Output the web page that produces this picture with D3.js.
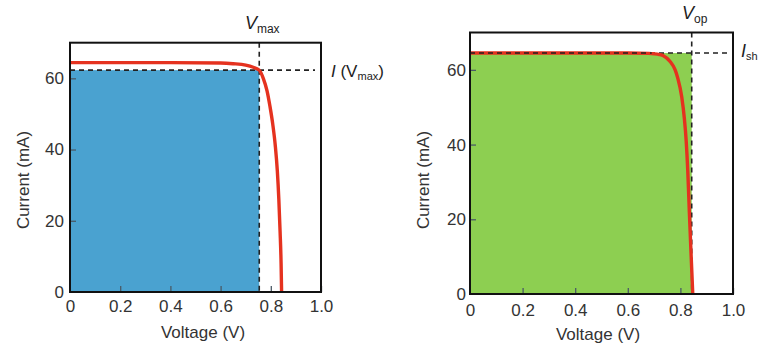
<!DOCTYPE html>
<html>
<head>
<meta charset="utf-8">
<script src="https://cdn.jsdelivr.net/npm/d3@7"></script>
<style>
  html, body { margin: 0; padding: 0; background: #ffffff; }
  svg { display: block; }
  text { font-family: "Liberation Sans", Arial, Helvetica, sans-serif; }
</style>
</head>
<body>
<svg id="chart" width="760" height="347"></svg>
<script>
// ---------- data ----------
const xTicks = [0, 0.2, 0.4, 0.6, 0.8, 1.0];
const xTickLabels = ["0", "0.2", "0.4", "0.6", "0.8", "1.0"];
const yTicks = [0, 20, 40, 60];
const yTickLabels = ["0", "20", "40", "60"];

// left panel (max power point)
const voltageLeft = [0, 0.2, 0.4, 0.6, 0.65, 0.7, 0.73, 0.754, 0.77, 0.785, 0.797, 0.808, 0.818, 0.826, 0.832, 0.837, 0.841, 0.843];
const currentLeft = [64.4, 64.4, 64.4, 64.3, 64.1, 63.7, 63.1, 62.3, 60.0, 56.5, 52.0, 47.0, 41.0, 34.0, 26.0, 17.0, 8.0, 0];
const vMax = 0.754;
const iVMax = 62.3;

// right panel (operating point)
const voltageRight = [0, 0.2, 0.4, 0.6, 0.68, 0.7, 0.72, 0.735, 0.76, 0.78, 0.79, 0.805, 0.815, 0.822, 0.828, 0.834, 0.841, 0.847];
const currentRight = [64.5, 64.5, 64.5, 64.5, 64.4, 64.3, 64.1, 63.8, 62.3, 60.0, 57.8, 52.8, 47.0, 41.0, 33.0, 22.0, 10.0, 0];
const vOp = 0.843;
const iSh = 64.5;

const panels = [
  { volts: voltageLeft, amps: currentLeft, vLine: vMax, iLine: iVMax, fill: "#4aa2d0",
    xr: [70, 321], yr: [292, 42.7], xPad: 8, yPad: 6, hDashEnd: 315,
    vLabel: ["V", "max"], xTitleX: 203, yTitleX: 23 },
  { volts: voltageRight, amps: currentRight, vLine: vOp, iLine: iSh, fill: "#8dcf51",
    xr: [470, 733], yr: [294, 32.5], xPad: 10, yPad: 4, hDashEnd: 730,
    vLabel: ["V", "op"], xTitleX: 598, yTitleX: 423 }
];

const svg = d3.select("#chart");

panels.forEach((p, idx) => {
  const x = d3.scaleLinear().domain([0, 1.0]).range(p.xr);
  const y = d3.scaleLinear().domain([0, 70]).range(p.yr);
  const g = svg.append("g");

  // filled power rectangle
  g.append("rect")
    .attr("x", x(0)).attr("y", y(p.iLine))
    .attr("width", x(p.vLine) - x(0))
    .attr("height", y(0) - y(p.iLine))
    .attr("fill", p.fill);

  // axes (ticks inside)
  const xAxis = d3.axisBottom(x).tickValues(xTicks)
    .tickFormat((d, i) => xTickLabels[i])
    .tickSizeInner(-6).tickSizeOuter(0).tickPadding(p.xPad);
  const yAxis = d3.axisLeft(y).tickValues(yTicks)
    .tickFormat((d, i) => yTickLabels[i])
    .tickSizeInner(-6).tickSizeOuter(0).tickPadding(p.yPad);

  const gx = g.append("g").attr("transform", `translate(0,${y(0)})`).call(xAxis);
  const gy = g.append("g").attr("transform", `translate(${x(0)},0)`).call(yAxis);
  [gx, gy].forEach(a => {
    a.select(".domain").remove();
    a.selectAll(".tick line").attr("stroke", "#4a5a66").attr("stroke-width", 1.3)
      .filter(d => d === 0).remove();
    a.selectAll(".tick text").attr("fill", "#333").style("font-size", "17px");
  });

  // dashed guide lines
  g.append("line")
    .attr("x1", x(0)).attr("x2", p.hDashEnd)
    .attr("y1", y(p.iLine)).attr("y2", y(p.iLine))
    .attr("stroke", "#222").attr("stroke-width", 1.6).attr("stroke-dasharray", "5,4");
  g.append("line")
    .attr("x1", x(p.vLine)).attr("x2", x(p.vLine))
    .attr("y1", y(70)).attr("y2", y(0))
    .attr("stroke", "#222").attr("stroke-width", 1.6).attr("stroke-dasharray", "5,4");

  // I-V curve
  const line = d3.line()
    .x((d, i) => x(p.volts[i]))
    .y((d, i) => y(p.amps[i]))
    .curve(d3.curveMonotoneX);
  g.append("path").datum(p.volts)
    .attr("d", line)
    .attr("fill", "none")
    .attr("stroke", "#e5321f")
    .attr("stroke-width", 3.4);

  // dashed line over the flat part of the curve (right panel)
  if (idx === 1) {
    g.append("line")
      .attr("x1", x(0)).attr("x2", x(p.vLine) - 40)
      .attr("y1", y(p.iLine)).attr("y2", y(p.iLine))
      .attr("stroke", "#222").attr("stroke-width", 1.4).attr("stroke-dasharray", "5,4");
  }

  // frame
  g.append("rect")
    .attr("x", x(0)).attr("y", y(70))
    .attr("width", x(1) - x(0)).attr("height", y(0) - y(70))
    .attr("fill", "none").attr("stroke", "#111").attr("stroke-width", 2);

  // axis titles
  g.append("text")
    .attr("x", p.xTitleX).attr("y", y(0) + 46)
    .attr("text-anchor", "middle")
    .attr("fill", "#333").style("font-size", "17px")
    .text("Voltage (V)");
  g.append("text")
    .attr("transform", `translate(${p.yTitleX},180) rotate(-90)`)
    .attr("text-anchor", "middle").attr("dy", "0.35em")
    .attr("fill", "#333").style("font-size", "17px")
    .text("Current (mA)");

  // top voltage label
  const vt = g.append("text")
    .attr("x", x(p.vLine) + 3).attr("y", y(70) - 14)
    .attr("text-anchor", "middle")
    .attr("fill", "#222");
  vt.append("tspan").style("font-style", "italic").style("font-size", "18px").text(p.vLabel[0]);
  vt.append("tspan").attr("dy", 4).style("font-size", "12px").text(p.vLabel[1]);
});

// current annotations
const left = svg.append("text").attr("x", 331).attr("y", 77).attr("fill", "#222");
left.append("tspan").style("font-style", "italic").style("font-size", "17px").text("I");
left.append("tspan").style("font-size", "17px").text(" (V");
left.append("tspan").attr("dy", 3).style("font-size", "11px").text("max");
left.append("tspan").attr("dy", -3).style("font-size", "17px").text(")");

const right = svg.append("text").attr("x", 741).attr("y", 57).attr("fill", "#222");
right.append("tspan").style("font-style", "italic").style("font-size", "18px").text("I");
right.append("tspan").attr("dy", 3).style("font-size", "11px").text("sh");
</script>
</body>
</html>
